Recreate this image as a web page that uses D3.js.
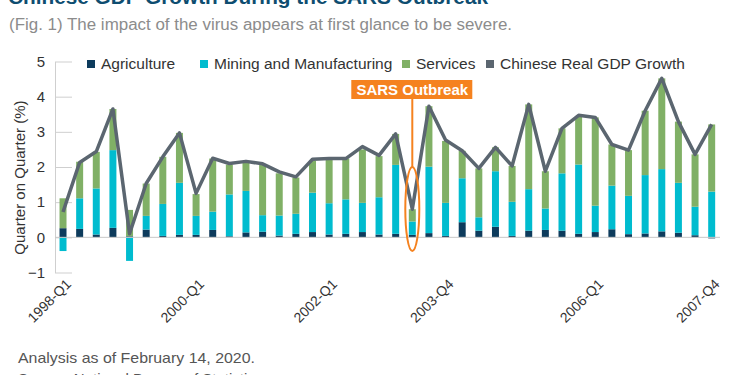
<!DOCTYPE html>
<html>
<head>
<meta charset="utf-8">
<script src="https://cdn.jsdelivr.net/npm/d3@7"></script>
<style>
  body { margin: 0; background: #fff; }
  svg { display: block; font-family: "Liberation Sans", Arial, sans-serif; }
</style>
</head>
<body>
<div id="chart"></div>
<script>
// quarters 1998-Q1 .. 2007-Q4
var quarters = [];
for (var yr = 1998; yr <= 2007; yr++) for (var q = 1; q <= 4; q++) quarters.push(yr + '-Q' + q);

var agriculture = [0.26, 0.24, 0.08, 0.27, 0.03, 0.22, 0.04, 0.07,
                   0.07, 0.21, 0.03, 0.14, 0.16, 0.05, 0.10, 0.15,
                   0.08, 0.10, 0.15, 0.08, 0.10, 0.07, 0.12, 0.04,
                   0.43, 0.19, 0.30, 0.04, 0.19, 0.21, 0.19, 0.10,
                   0.15, 0.23, 0.09, 0.11, 0.17, 0.13, 0.06, -0.03];
var mining = [-0.39, 0.87, 1.31, 2.21, -0.67, 0.39, 0.91, 1.48,
              0.54, 0.52, 1.19, 1.18, 0.47, 0.57, 0.57, 1.12,
              0.89, 0.98, 0.83, 1.06, 1.96, 0.38, 1.89, 0.94,
              1.25, 0.38, 1.58, 0.97, 1.18, 0.61, 1.63, 1.97,
              0.75, 1.24, 1.09, 1.66, 1.77, 1.42, 0.81, 1.30];
var services = [0.85, 1.04, 1.04, 1.17, 0.75, 0.92, 1.34, 1.42,
                0.62, 1.51, 0.85, 0.83, 1.44, 1.20, 1.03, 0.91,
                1.27, 1.16, 1.52, 1.17, 0.88, 0.35, 1.72, 1.76,
                0.78, 1.39, 0.68, 1.02, 2.41, 1.06, 1.28, 1.36,
                2.51, 1.17, 1.30, 1.83, 2.58, 1.74, 1.49, 1.91];
var gdp = [0.72, 2.13, 2.44, 3.65, 0.10, 1.53, 2.29, 2.97,
           1.25, 2.25, 2.10, 2.16, 2.09, 1.86, 1.72, 2.22,
           2.24, 2.24, 2.58, 2.33, 2.94, 0.80, 3.73, 2.77,
           2.46, 1.96, 2.56, 2.03, 3.78, 1.88, 3.10, 3.47,
           3.41, 2.64, 2.48, 3.60, 4.52, 3.29, 2.36, 3.21];
var labelQuarters = ['1998-Q1', '2000-Q1', '2002-Q1', '2003-Q4', '2006-Q1', '2007-Q4'];
var yTicks = [-1, 0, 1, 2, 3, 4, 5];
var seriesNames = ['Agriculture', 'Mining and Manufacturing', 'Services', 'Chinese Real GDP Growth'];
var seriesColors = ['#0d3b5c', '#00bccf', '#80b066', '#5b6670'];
var sarsQuarter = '2003-Q2';

var svg = d3.select('#chart').append('svg').attr('width', 750).attr('height', 375);

var x = d3.scaleBand().domain(quarters).range([54.7, 720]).paddingInner(0.58).paddingOuter(0.29);
var y = d3.scaleLinear().domain([-1, 5]).range([272.5, 61.5]);

// title / subtitle (title sits mostly above the frame, as in the source)
svg.append('text').attr('x', 8).attr('y', 4).attr('font-size', 21).attr('font-weight', 'bold')
  .attr('fill', '#0e4d70').attr('textLength', 480).attr('lengthAdjust', 'spacingAndGlyphs')
  .text('Chinese GDP Growth During the SARS Outbreak');
svg.append('text').attr('x', 9).attr('y', 30).attr('font-size', 16).attr('fill', '#8c8c8c')
  .attr('textLength', 503).attr('lengthAdjust', 'spacingAndGlyphs')
  .text('(Fig. 1) The impact of the virus appears at first glance to be severe.');

// y axis
var yAxis = d3.axisLeft(y).tickValues(yTicks).tickFormat(d3.format('d'))
  .tickSize(-17).tickSizeOuter(0).tickPadding(10);
var gy = svg.append('g').attr('transform', 'translate(55,0)').call(yAxis);
gy.select('.domain').attr('stroke', '#cfcfcf');
gy.selectAll('.tick line').attr('stroke', '#cfcfcf');
gy.selectAll('.tick text').attr('font-size', 15).attr('fill', '#333').attr('font-family', '"Liberation Sans", Arial, sans-serif');

svg.append('text').attr('transform', 'translate(25,' + y(1.7) + ') rotate(-90)')
  .attr('text-anchor', 'middle').attr('font-size', 15).attr('fill', '#333')
  .text('Quarter on Quarter (%)');

// stacked bars (positive stack up, negatives stack down)
var rows = quarters.map(function (q, i) { return { q: q, vals: [agriculture[i], mining[i], services[i]] }; });
var segs = [];
rows.forEach(function (r) {
  var pos = 0, neg = 0;
  r.vals.forEach(function (v, k) {
    if (v >= 0) { segs.push({ q: r.q, k: k, y0: pos, y1: pos + v }); pos += v; }
    else { segs.push({ q: r.q, k: k, y0: neg + v, y1: neg }); neg += v; }
  });
});
svg.append('g').selectAll('rect').data(segs).join('rect')
  .attr('x', function (d) { return x(d.q); })
  .attr('width', x.bandwidth())
  .attr('y', function (d) { return y(d.y1); })
  .attr('height', function (d) { return y(d.y0) - y(d.y1); })
  .attr('fill', function (d) { return seriesColors[d.k]; });

// zero line
svg.append('line').attr('x1', 55).attr('x2', 720).attr('y1', y(0)).attr('y2', y(0))
  .attr('stroke', '#c8c8c8').attr('stroke-width', 1);

// GDP line
var line = d3.line().x(function (d, i) { return x(quarters[i]) + x.bandwidth() / 2; }).y(function (d) { return y(d); });
svg.append('path').datum(gdp).attr('d', line).attr('fill', 'none')
  .attr('stroke', seriesColors[3]).attr('stroke-width', 3.5).attr('stroke-linejoin', 'round');

// x labels
var xAxis = d3.axisBottom(x).tickValues(labelQuarters).tickSize(0).tickPadding(0);
var gx = svg.append('g').attr('transform', 'translate(0,280)').call(xAxis);
gx.select('.domain').remove();
gx.selectAll('.tick text').attr('font-size', 14).attr('fill', '#333')
  .attr('font-family', '"Liberation Sans", Arial, sans-serif')
  .attr('text-anchor', 'end').attr('dy', '0.7em').attr('dx', '0.2em')
  .attr('transform', 'rotate(-45)');

// legend
var legendX = [87, 200, 402, 486];
var lg = svg.append('g').selectAll('g').data(seriesNames).join('g')
  .attr('transform', function (d, i) { return 'translate(' + legendX[i] + ',60)'; });
lg.append('rect').attr('width', 8).attr('height', 8).attr('fill', function (d, i) { return seriesColors[i]; });
lg.append('text').attr('x', 14).attr('y', 8.5).attr('font-size', 15.5).attr('fill', '#333').text(function (d) { return d; });

// SARS annotation
var sx = x(sarsQuarter) + x.bandwidth() / 2;
svg.append('ellipse').attr('cx', sx).attr('cy', 209).attr('rx', 7).attr('ry', 42)
  .attr('fill', 'none').attr('stroke', '#f5821f').attr('stroke-width', 2);
svg.append('line').attr('x1', sx).attr('x2', sx).attr('y1', 98).attr('y2', 167)
  .attr('stroke', '#f5821f').attr('stroke-width', 2);
svg.append('rect').attr('x', sx - 61).attr('y', 80).attr('width', 121).attr('height', 19).attr('fill', '#f5821f');
svg.append('text').attr('x', sx).attr('y', 95).attr('text-anchor', 'middle').attr('font-size', 15)
  .attr('font-weight', 'bold').attr('fill', '#fff').text('SARS Outbreak');

// footer (second line runs off the bottom, as in the source)
svg.append('text').attr('x', 18).attr('y', 363).attr('font-size', 15).attr('fill', '#555')
  .attr('textLength', 237).attr('lengthAdjust', 'spacingAndGlyphs').text('Analysis as of February 14, 2020.');
svg.append('text').attr('x', 18).attr('y', 384).attr('font-size', 15).attr('fill', '#555')
  .text('Source: National Bureau of Statistics');
</script>
</body>
</html>
